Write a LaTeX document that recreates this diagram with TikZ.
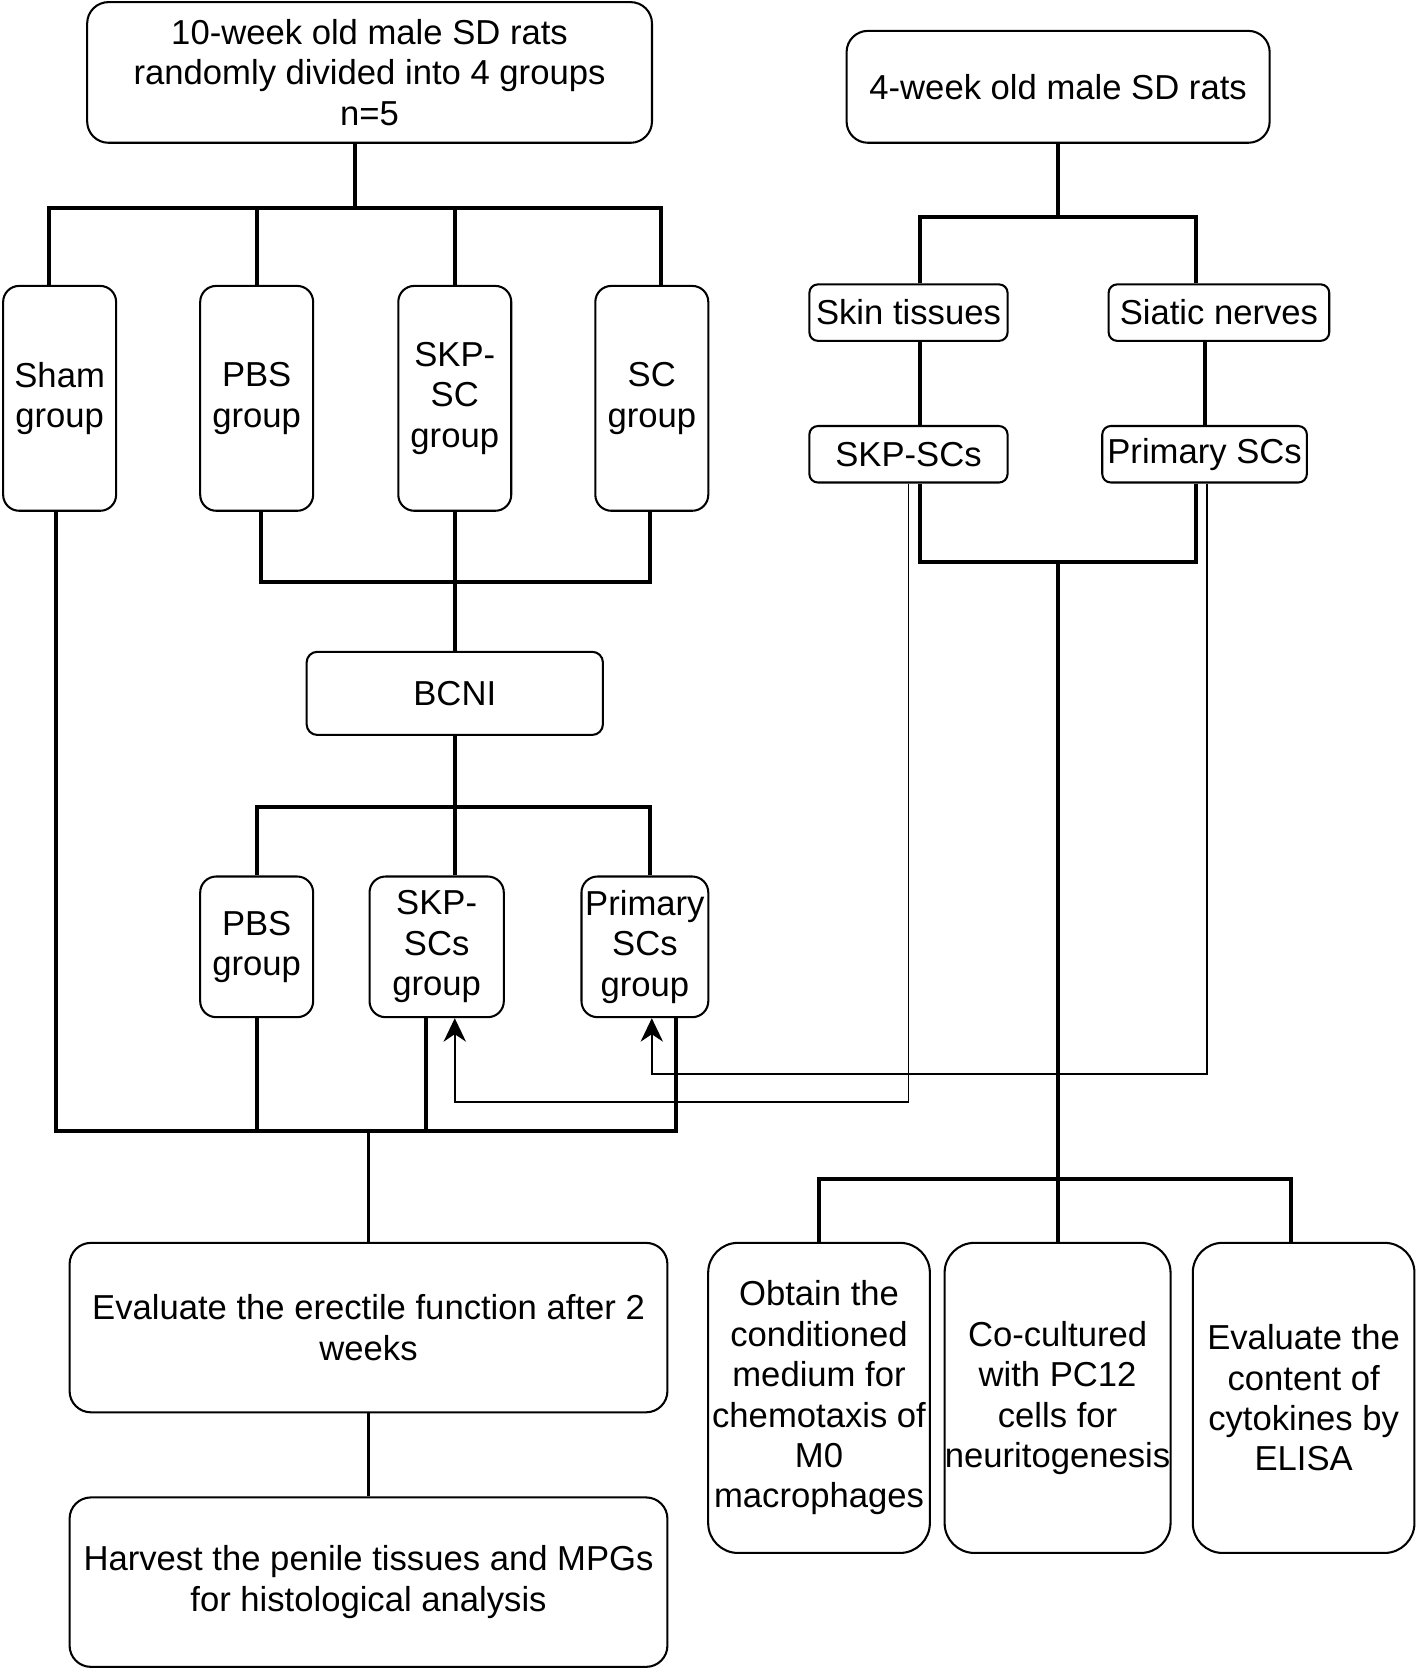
\documentclass[tikz,border=0pt]{standalone}
\usepackage{fontspec}
\setmainfont{Liberation Sans}
\usetikzlibrary{arrows.meta}

\begin{document}
\begin{tikzpicture}[x=0.01cm, y=-0.01cm, font=\fontsize{9.25}{10.8}\selectfont,
  box/.style={draw, line width=0.55pt, align=center, inner sep=0pt},
  grp/.style={box, rounded corners=0.15cm, minimum width=1.06cm, minimum height=2.11cm},
  sgrp/.style={box, rounded corners=0.15cm, minimum height=1.32cm},
  wide/.style={box, rounded corners=0.2cm, minimum width=5.61cm, minimum height=1.59cm},
  small/.style={box, rounded corners=0.08cm, minimum height=0.53cm},
  tall/.style={box, rounded corners=0.28cm, minimum width=2.08cm, minimum height=2.91cm},
  trunk/.style={line width=1.05pt},
  feed/.style={line width=0.5pt, -{Stealth[length=0.22cm, width=0.21cm, inset=0.07cm]}}]
  \useasboundingbox (0,0) rectangle (1330,1568);

  \node[box, rounded corners=0.2cm, minimum width=5.30cm, minimum height=1.32cm] (rats10) at (347,68) {10-week old male SD rats\\randomly divided into 4 groups\\n=5};
  \node[box, rounded corners=0.2cm, minimum width=3.97cm, minimum height=1.05cm] (rats4) at (993.5,81.5) {4-week old male SD rats};

  \node[grp] (sham) at (56,374) {Sham\\group};
  \node[grp] (pbs) at (241,374) {PBS\\group};
  \node[grp] (skpsc) at (427,374) {SKP-\\SC\\group};
  \node[grp] (sc) at (612,374) {SC\\group};
  \node[box, rounded corners=0.1cm, minimum width=2.78cm, minimum height=0.78cm] (bcni) at (427,651) {BCNI};
  \node[sgrp, minimum width=1.06cm] (pbsb) at (241,889) {PBS\\group};
  \node[sgrp, minimum width=1.26cm] (skps) at (410,889) {SKP-\\SCs\\group};
  \node[sgrp, minimum width=1.19cm] (prims) at (605.5,889) {Primary\\SCs\\group};
  \node[wide] (erect) at (346,1246.5) {Evaluate the erectile function after 2\\weeks};
  \node[wide] (harvest) at (346,1485.5) {Harvest the penile tissues and MPGs\\for histological analysis};

  \node[small, minimum width=1.86cm] (skin) at (853,293.5) {Skin tissues};
  \node[small, minimum width=2.07cm] (nerve) at (1144.5,293.5) {Siatic nerves};
  \node[small, minimum width=1.86cm] (skpscs) at (853,426.5) {SKP-SCs};
  \node[small, minimum width=1.92cm] (primscs) at (1131,426.5) {Primary SCs};
  \node[tall] (chemo) at (769,1312.5) {Obtain the\\conditioned\\medium for\\chemotaxis of\\M0\\macrophages};
  \node[tall, minimum width=2.12cm] (cocult) at (993,1312.5) {Co-cultured\\with PC12\\cells for\\neuritogenesis};
  \node[tall] (elisa) at (1224,1312.5) {Evaluate the\\content of\\cytokines by\\ELISA};

  \coordinate (j1) at (333,195);
  \draw[trunk] (rats10.south -| j1) -- (j1);
  \draw[trunk] (j1) -| ([xshift=-0.1cm]sham.north);
  \draw[trunk] (j1) -| (pbs.north);
  \draw[trunk] (j1) -| (skpsc.north);
  \draw[trunk] (j1) -| ([xshift=0.09cm]sc.north);
  \coordinate (j2) at (427,546);
  \draw[trunk] ([xshift=0.04cm]pbs.south) |- (j2) -| ([xshift=-0.02cm]sc.south);
  \draw[trunk] (skpsc.south) -- (bcni.north);
  \coordinate (j3) at (427,758);
  \draw[trunk] (bcni.south) -- (j3);
  \draw[trunk] (pbsb.north) |- (j3) -| ([xshift=0.05cm]prims.north);
  \draw[trunk] (j3) -- (j3 |- skps.north);
  \coordinate (j4) at (346,1062);
  \draw[trunk] ([xshift=-0.03cm]sham.south) |- (j4) -| ([xshift=0.29cm]prims.south);
  \draw[trunk] (pbsb.south) -- (pbsb.south |- j4);
  \draw[trunk] ([xshift=-0.1cm]skps.south) -- ([xshift=-0.1cm]skps.south |- j4);
  \draw[trunk] (j4) -- (erect.north);
  \draw[trunk] (erect.south) -- (harvest.north);

  \coordinate (j5) at (993,204);
  \draw[trunk] (rats4.south -| j5) -- (j5);
  \draw[trunk] ([xshift=0.11cm]skin.north) |- (j5) -| ([xshift=-0.215cm]nerve.north);
  \draw[trunk] ([xshift=0.11cm]skin.south) -- ([xshift=0.11cm]skpscs.north);
  \draw[trunk] (primscs.north |- nerve.south) -- (primscs.north);
  \coordinate (j6) at (993,528);
  \draw[trunk] ([xshift=0.11cm]skpscs.south) |- (j6) -| ([xshift=-0.08cm]primscs.south);
  \coordinate (j7) at (993,1107);
  \draw[trunk] (j6) -- (j7);
  \draw[trunk] (chemo.north) |- (j7) -| ([xshift=-0.12cm]elisa.north);
  \draw[trunk] (j7) -- (cocult.north);

  \coordinate (k1) at (427,1035);
  \coordinate (k2) at (612,1008);
  \draw[feed] (skpscs.south) |- (k1) -- (k1 |- skps.south);
  \draw[feed] ([xshift=0.02cm]primscs.south) |- (k2) -- (k2 |- prims.south);
\end{tikzpicture}
\end{document}
